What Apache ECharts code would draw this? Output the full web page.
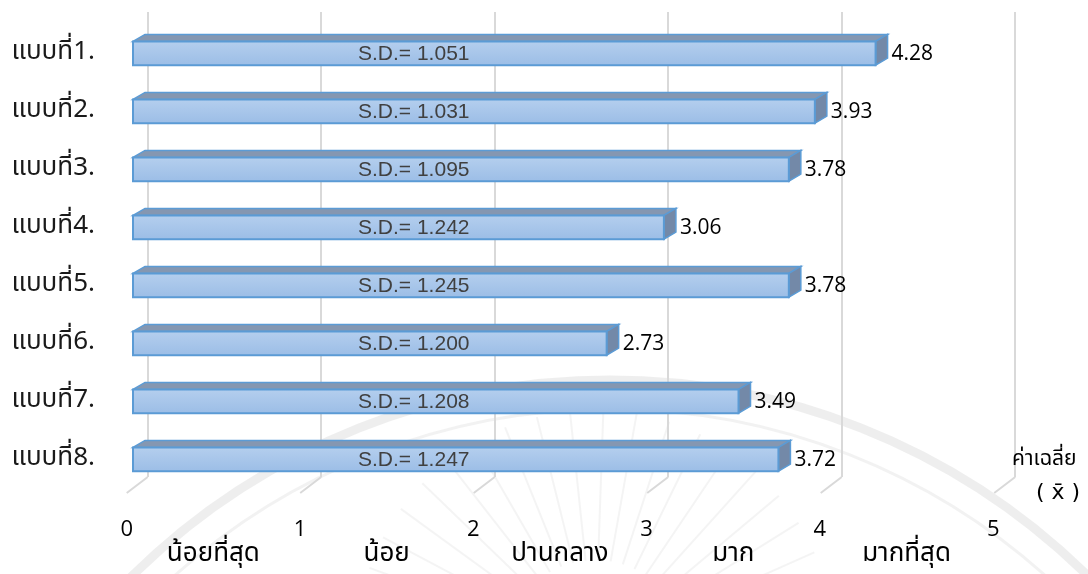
<!DOCTYPE html>
<html>
<head>
<meta charset="utf-8">
<script src="https://cdn.jsdelivr.net/npm/echarts@6/dist/echarts.min.js"></script>
<style>
html,body{margin:0;padding:0;background:#fff;}
#chart{width:1088px;height:574px;}
</style>
</head>
<body>
<div id="chart"></div>
<script>
const categories = ['แบบที่1.', 'แบบที่2.', 'แบบที่3.', 'แบบที่4.', 'แบบที่5.', 'แบบที่6.', 'แบบที่7.', 'แบบที่8.'];
const means = [4.28, 3.93, 3.78, 3.06, 3.78, 2.73, 3.49, 3.72];
const sdValues = ['1.051', '1.031', '1.095', '1.242', '1.245', '1.200', '1.208', '1.247'];
const axisTicks = [0, 1, 2, 3, 4, 5];
const levelLabels = ['น้อยที่สุด', 'น้อย', 'ปานกลาง', 'มาก', 'มากที่สุด'];
const axisTitle = 'ค่าเฉลี่ย';
const axisSymbol = '( x\u0304 )';

const THAI = '"Noto Sans Thai", "Noto Sans Thai Looped", Loma, Garuda, "TH Sarabun New", "Noto Sans", "DejaVu Sans", sans-serif';
const DX = 12, DY = 7;

const chart = echarts.init(document.getElementById('chart'));

function renderBar(params, api) {
  const val = api.value(0);
  const idx = api.value(1);
  const p0 = api.coord([0, idx]);
  const p1 = api.coord([val, idx]);
  const band = api.size([0, 1])[1];
  const h = band * 0.41;
  const x0 = p0[0], x1 = p1[0], cy = p0[1];
  const top = cy - h / 2, bot = cy + h / 2;
  const stroke = '#5b9bd5';
  return {
    type: 'group',
    children: [
      {
        type: 'polygon',
        shape: { points: [[x0, top], [x0 + DX, top - DY], [x1 + DX, top - DY], [x1, top]] },
        style: { fill: '#8597b1', stroke: stroke, lineWidth: 1.5 }
      },
      {
        type: 'polygon',
        shape: { points: [[x1, top], [x1 + DX, top - DY], [x1 + DX, bot - DY], [x1, bot]] },
        style: { fill: '#7389a8', stroke: stroke, lineWidth: 1.5 }
      },
      {
        type: 'rect',
        shape: { x: x0, y: top, width: x1 - x0, height: h },
        style: {
          fill: new echarts.graphic.LinearGradient(0, 0, 0, 1, [
            { offset: 0, color: '#b5cfee' },
            { offset: 1, color: '#9bbde6' }
          ]),
          stroke: stroke, lineWidth: 2
        }
      },
      {
        type: 'text',
        style: {
          text: 'S.D.= ' + sdValues[idx],
          x: x0 + 225, y: cy + 1,
          fontSize: 21, fontFamily: '"Liberation Sans", Arial, sans-serif',
          fill: '#404040', align: 'left', verticalAlign: 'middle'
        }
      },
      {
        type: 'text',
        style: {
          text: val.toFixed(2),
          x: x1 + DX + 4, y: cy + 1,
          fontSize: 21, fontFamily: '"Open Sans", sans-serif',
          fill: '#000', align: 'left', verticalAlign: 'middle'
        }
      }
    ]
  };
}

function renderFloor(params, api) {
  const v = api.value(0);
  const p = api.coord([v, 0]);
  return {
    type: 'line',
    shape: { x1: p[0], y1: p[1], x2: p[0] - 21, y2: p[1] + 16 },
    style: { stroke: '#d9d9d9', lineWidth: 2 }
  };
}

// faint watermark seal (decoration only)
const wm = [];
wm.push({ type: 'circle', silent: true, z: -10, shape: { cx: 610, cy: 1061, r: 681 }, style: { fill: 'none', stroke: 'rgba(150,150,150,0.16)', lineWidth: 9 } });
wm.push({ type: 'circle', silent: true, z: -10, shape: { cx: 610, cy: 1061, r: 652 }, style: { fill: 'none', stroke: 'rgba(150,150,150,0.12)', lineWidth: 3 } });
for (let a = -160; a <= -20; a += 8) {
  const r = a * Math.PI / 180;
  wm.push({ type: 'line', silent: true, z: -10,
    shape: { x1: 595 + 90 * Math.cos(r), y1: 650 + 90 * Math.sin(r), x2: 595 + 240 * Math.cos(r), y2: 650 + 240 * Math.sin(r) },
    style: { stroke: 'rgba(150,150,150,0.10)', lineWidth: 2 } });
}

const option = {
  backgroundColor: '#ffffff',
  animation: false,
  grid: [
    { left: 133, right: 87.5, top: 24.3, bottom: 85.7 },
    { left: 147.7, right: 72.8, top: 12, bottom: 97 },
    { left: 126.7, right: 94.8, top: 12, bottom: 81 }
  ],
  xAxis: [
    { gridIndex: 0, type: 'value', min: 0, max: 5, interval: 1, show: false },
    {
      gridIndex: 1, type: 'value', min: 0, max: 5, interval: 1,
      axisLine: { show: false }, axisTick: { show: false }, axisLabel: { show: false },
      splitLine: { show: true, lineStyle: { color: '#d9d9d9', width: 2 } }
    },
    {
      gridIndex: 2, type: 'value', min: 0, max: 5, interval: 1, position: 'bottom',
      axisLine: { show: false }, axisTick: { show: false }, splitLine: { show: false },
      axisLabel: { margin: 26, fontSize: 22, fontFamily: '"Open Sans", sans-serif', color: '#000',
        formatter: v => axisTicks.indexOf(v) >= 0 ? String(v) : '' }
    },
    {
      gridIndex: 2, type: 'category', data: levelLabels, boundaryGap: true, position: 'bottom', offset: 0,
      axisLine: { show: false }, axisTick: { show: false }, splitLine: { show: false },
      axisLabel: { interval: 0, margin: 50, fontSize: 26, fontFamily: THAI, color: '#000' }
    }
  ],
  yAxis: [
    {
      gridIndex: 0, type: 'category', data: categories, inverse: true,
      axisLine: { show: false }, axisTick: { show: false }, splitLine: { show: false },
      axisLabel: { margin: 38, fontSize: 26, fontFamily: THAI, color: '#1a1a1a' }
    },
    { gridIndex: 1, type: 'value', min: 0, max: 1, show: false },
    { gridIndex: 2, type: 'value', min: 0, max: 1, show: false }
  ],
  graphic: wm.concat([
    { type: 'text', left: 1012, top: 450, z: 10, style: { text: axisTitle, fontSize: 21, fontFamily: THAI, fill: '#000' } },
    { type: 'text', left: 1036, top: 482, z: 10, style: { text: axisSymbol, fontSize: 22, fontFamily: '"DejaVu Sans", sans-serif', fill: '#000' } }
  ]),
  series: [
    {
      type: 'custom', xAxisIndex: 1, yAxisIndex: 1,
      data: axisTicks.map(v => [v]),
      encode: { x: 0 },
      renderItem: renderFloor, silent: true, z: 1
    },
    {
      type: 'custom', xAxisIndex: 0, yAxisIndex: 0,
      data: means.map((m, i) => [m, i]),
      encode: { x: 0, y: 1 },
      renderItem: renderBar, z: 5
    }
  ]
};
chart.setOption(option);
</script>
</body>
</html>
